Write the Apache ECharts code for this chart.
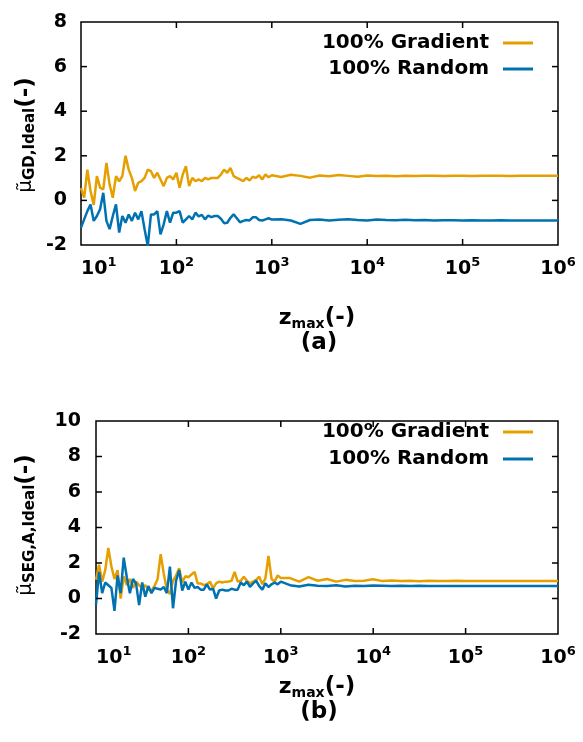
<!DOCTYPE html>
<html>
<head>
<meta charset="utf-8">
<script src="https://cdn.jsdelivr.net/npm/echarts@6/dist/echarts.min.js"></script>
<style>
  html, body { margin: 0; padding: 0; background: #fff; }
  #chart { width: 583px; height: 742px; }
</style>
</head>
<body>
<div id="chart"></div>
<script>
// Sampling grid in log10(z_max): fine steps up to 10^3, coarse steps up to 10^6
const FINE_STEP = 1 / 30;
const COARSE_STEP = 0.1;
const logZ = [];
for (let i = 0; i <= 60; i++) logZ.push(1 + i * FINE_STEP);
for (let i = 1; i <= 30; i++) logZ.push(3 + i * COARSE_STEP);

// (a) mu_GD,Ideal
const gdGradientFine = [0.55, 0.12, 1.38, 0.42, -0.2, 1.09, 0.57, 0.49, 1.68, 0.71, 0.12, 1.09, 0.86, 1.09, 2.0, 1.38,
  1.01, 0.42, 0.79, 0.86, 1.01, 1.38, 1.31, 1.01, 1.24, 0.94, 0.64, 1.01, 1.09, 0.94, 1.24, 0.57,
  1.16, 1.53, 0.64, 1.01, 0.86, 0.94, 0.86, 1.01, 0.94, 1.01, 1.01, 1.01, 1.16, 1.38, 1.24, 1.46,
  1.09, 1.01, 0.94, 0.86, 1.01, 0.89, 1.06, 1.01, 1.13, 0.94, 1.16, 1.04, 1.13];
const gdGradientCoarse = [1.05, 1.15, 1.10, 1.02, 1.12, 1.08, 1.14, 1.10, 1.06, 1.12, 1.09, 1.11, 1.08, 1.10, 1.09,
  1.11, 1.10, 1.09, 1.10, 1.10, 1.09, 1.10, 1.10, 1.10, 1.09, 1.10, 1.10, 1.10, 1.10, 1.10];
const gdRandomFine = [-1.22, -0.85, -0.48, -0.18, -0.92, -0.70, -0.40, 0.34, -0.92, -1.29, -0.70, -0.18, -1.44, -0.70,
  -1.0, -0.63, -0.92, -0.55, -0.85, -0.48, -1.29, -2.04, -0.63, -0.63, -0.48, -1.52, -1.07, -0.48, -1.0, -0.55,
  -0.55, -0.48, -1.0, -0.85, -0.70, -0.85, -0.55, -0.72, -0.65, -0.85, -0.68, -0.75, -0.70, -0.70, -0.82, -1.02,
  -1.0, -0.78, -0.62, -0.80, -0.98, -0.92, -0.88, -0.90, -0.76, -0.75, -0.88, -0.90, -0.85, -0.80, -0.86];
const gdRandomCoarse = [-0.85, -0.90, -1.05, -0.88, -0.86, -0.90, -0.87, -0.84, -0.88, -0.90, -0.86, -0.88, -0.89,
  -0.87, -0.89, -0.88, -0.90, -0.89, -0.89, -0.90, -0.89, -0.90, -0.90, -0.89, -0.90, -0.90, -0.90, -0.90, -0.90, -0.90];

// (b) mu_SEG,A,Ideal
const segGradientFine = [1.05, 1.9, 0.95, 1.6, 2.85, 1.8, 1.1, 1.6, 0.0, 1.25, 0.75, 1.1, 0.6, 0.95, 0.75, 0.6, 0.75,
  0.5, 0.45, 0.7, 1.1, 2.5, 1.4, 0.5, 0.25, 1.0, 1.3, 1.7, 0.9, 1.25, 1.2, 1.35, 1.5, 0.85, 0.85, 0.75, 0.8, 0.95,
  0.57, 0.85, 0.95, 0.9, 0.95, 0.95, 1.0, 1.5, 0.95, 1.0, 1.23, 1.0, 0.85, 0.95, 1.05, 1.23, 0.8, 1.14, 2.4, 1.1,
  0.95, 1.3, 1.15];
const segGradientCoarse = [1.15, 0.95, 1.2, 1.0, 1.1, 0.95, 1.05, 0.98, 1.0, 1.08, 0.98, 1.02, 0.99, 1.0, 0.97, 1.0,
  0.98, 0.99, 1.0, 0.98, 0.99, 0.98, 0.99, 0.98, 0.98, 0.99, 0.98, 0.98, 0.98, 0.98];
const segRandomFine = [-0.35, 1.5, 0.3, 0.9, 0.75, 0.6, -0.7, 1.3, 0.3, 2.3, 1.2, 0.3, 1.1, 0.85, -0.37, 0.9, 0.1, 0.7,
  0.3, 0.6, 0.55, 0.5, 0.65, 0.3, 1.8, -0.55, 1.0, 1.6, 0.45, 0.95, 0.5, 0.9, 0.6, 0.65, 0.5, 0.5, 0.8, 0.5, 0.55,
  0.0, 0.45, 0.5, 0.45, 0.45, 0.55, 0.5, 0.5, 0.9, 0.75, 0.95, 0.65, 0.85, 1.0, 0.7, 0.5, 0.85, 0.65, 0.8, 0.9, 0.8, 0.95];
const segRandomCoarse = [0.75, 0.68, 0.78, 0.72, 0.7, 0.75, 0.68, 0.72, 0.7, 0.73, 0.72, 0.7, 0.72, 0.71, 0.72, 0.7,
  0.71, 0.7, 0.71, 0.7, 0.7, 0.71, 0.7, 0.7, 0.7, 0.7, 0.7, 0.7, 0.7, 0.7];

const seriesNames = ['100% Gradient', '100% Random'];
const yTicksA = { min: -2, max: 8, interval: 2 };
const yTicksB = { min: -2, max: 10, interval: 2 };
// x axis runs over the decade exponent, labelled as powers of ten
const xDecades = { min: 1, max: 6, interval: 1 };

const FONT = 'DejaVu Sans';
const ORANGE = '#E69F00';
const BLUE = '#0072B2';
const TICK_LEN = 6;

const pairs = (ys) => ys.map((y, i) => [logZ[i], y]);

function xAxisFor(gridIndex) {
  return {
    type: 'value', min: xDecades.min, max: xDecades.max, interval: xDecades.interval, gridIndex,
    position: 'bottom', splitLine: { show: false }, minorTick: { show: false },
    axisLine: { show: false, onZero: false }, axisTick: { show: false },
    axisLabel: {
      margin: 11, color: '#000', fontFamily: FONT, fontWeight: 'bold', fontSize: 19,
      showMinLabel: true, showMaxLabel: true, alignMinLabel: 'left',
      formatter: v => '{b|10}{sup|' + v + '}',
      rich: {
        b: { fontFamily: FONT, fontWeight: 'bold', fontSize: 19, lineHeight: 26, verticalAlign: 'middle', color: '#000' },
        sup: { fontFamily: FONT, fontWeight: 'bold', fontSize: 13, lineHeight: 15, verticalAlign: 'top', color: '#000' }
      }
    }
  };
}

function yAxisFor(gridIndex, ticks, margin) {
  return {
    type: 'value', min: ticks.min, max: ticks.max, interval: ticks.interval, gridIndex,
    position: 'left', splitLine: { show: false },
    axisLine: { show: false, onZero: false }, axisTick: { show: false },
    axisLabel: { margin, color: '#000', fontFamily: FONT, fontWeight: 'bold', fontSize: 19 }
  };
}

function lineSeries(name, color, axisIdx, ys) {
  return {
    name, type: 'line', xAxisIndex: axisIdx, yAxisIndex: axisIdx, data: pairs(ys),
    showSymbol: false, symbol: 'none', clip: true, animation: false,
    lineStyle: { color, width: 2.5 }, itemStyle: { color }
  };
}

// Inward tick marks on all four sides of a frame, positioned through the axes' scales
function tickSeries(axisIdx, yTicks) {
  const data = [];
  for (let v = xDecades.min + xDecades.interval; v < xDecades.max; v += xDecades.interval) data.push([v, yTicks.min, 0]);
  for (let v = yTicks.min + yTicks.interval; v < yTicks.max; v += yTicks.interval) data.push([xDecades.min, v, 1]);
  const tickStroke = { stroke: '#000', lineWidth: 1.5 };
  return {
    type: 'custom', xAxisIndex: axisIdx, yAxisIndex: axisIdx, data, clip: false, silent: true,
    animation: false, z: 10, encode: { x: 0, y: 1 },
    renderItem: (params, api) => {
      const vx = api.value(0), vy = api.value(1), vertical = api.value(2) === 0;
      let a, b;
      if (vertical) {
        a = api.coord([vx, yTicks.min]); b = api.coord([vx, yTicks.max]);
        return { type: 'group', children: [
          { type: 'line', shape: { x1: a[0], y1: a[1], x2: a[0], y2: a[1] - TICK_LEN }, style: tickStroke },
          { type: 'line', shape: { x1: b[0], y1: b[1], x2: b[0], y2: b[1] + TICK_LEN }, style: tickStroke }
        ] };
      }
      a = api.coord([xDecades.min, vy]); b = api.coord([xDecades.max, vy]);
      return { type: 'group', children: [
        { type: 'line', shape: { x1: a[0], y1: a[1], x2: a[0] + TICK_LEN, y2: a[1] }, style: tickStroke },
        { type: 'line', shape: { x1: b[0], y1: b[1], x2: b[0] - TICK_LEN, y2: b[1] }, style: tickStroke }
      ] };
    }
  };
}

function legendAt(top, gap) {
  return {
    data: seriesNames, orient: 'vertical', align: 'right', right: 45, top, itemGap: gap,
    itemWidth: 30, itemHeight: 3, icon: 'rect', selectedMode: false,
    textStyle: { fontFamily: FONT, fontWeight: 'bold', fontSize: 20, color: '#000', lineHeight: 20, padding: [0, 9, 0, 0] }
  };
}

const yTitleRich = {
  mu: { fontFamily: FONT, fontSize: 20, fontWeight: 'normal', lineHeight: 24, verticalAlign: 'middle', fill: '#000' },
  s: { fontFamily: FONT, fontSize: 15, fontWeight: 'bold', lineHeight: 18, verticalAlign: 'bottom', fill: '#000' },
  p: { fontFamily: FONT, fontSize: 23, fontWeight: 'bold', lineHeight: 24, verticalAlign: 'middle', fill: '#000' }
};
const xTitleRich = {
  z: { fontFamily: FONT, fontSize: 22, fontWeight: 'bold', lineHeight: 26, verticalAlign: 'middle', fill: '#000' },
  s: { fontFamily: FONT, fontSize: 14, fontWeight: 'bold', lineHeight: 16, verticalAlign: 'bottom', fill: '#000' },
  p: { fontFamily: FONT, fontSize: 23, fontWeight: 'bold', lineHeight: 26, verticalAlign: 'middle', fill: '#000' }
};

function richText(x, y, text, rich, rotation) {
  return {
    type: 'text', x, y, rotation: rotation || 0, silent: true,
    style: { text, rich, align: 'center', verticalAlign: 'middle', fill: '#000' }
  };
}
function plainText(x, y, text) {
  return {
    type: 'text', x, y, silent: true,
    style: { text, align: 'center', verticalAlign: 'middle', fill: '#000',
      font: 'bold 23px "' + FONT + '"' }
  };
}

const chart = echarts.init(document.getElementById('chart'), null, { renderer: 'canvas' });
chart.setOption({
  backgroundColor: '#fff',
  animation: false,
  grid: [
    { left: 81, right: 25, top: 22, height: 223, show: true, borderColor: '#000', borderWidth: 1.5, backgroundColor: 'transparent', outerBoundsMode: 'none', containLabel: false },
    { left: 96, right: 25, top: 421, height: 213, show: true, borderColor: '#000', borderWidth: 1.5, backgroundColor: 'transparent', outerBoundsMode: 'none', containLabel: false }
  ],
  xAxis: [xAxisFor(0), xAxisFor(1)],
  yAxis: [yAxisFor(0, yTicksA, 14), yAxisFor(1, yTicksB, 15)],
  legend: [legendAt(28, 6), legendAt(417, 7)],
  series: [
    lineSeries(seriesNames[0], ORANGE, 0, gdGradientFine.concat(gdGradientCoarse)),
    lineSeries(seriesNames[1], BLUE, 0, gdRandomFine.concat(gdRandomCoarse)),
    lineSeries(seriesNames[0], ORANGE, 1, segGradientFine.concat(segGradientCoarse)),
    lineSeries(seriesNames[1], BLUE, 1, segRandomFine.concat(segRandomCoarse)),
    tickSeries(0, yTicksA),
    tickSeries(1, yTicksB)
  ],
  graphic: [
    richText(26, 135, '{mu|\u03BC\u0303}{s|GD,Ideal}{p|(-)}', yTitleRich, Math.PI / 2),
    richText(26, 525, '{mu|\u03BC\u0303}{s|SEG,A,Ideal}{p|(-)}', yTitleRich, Math.PI / 2),
    richText(317, 318, '{z|z}{s|max}{p|(-)}', xTitleRich),
    plainText(319, 343, '(a)'),
    richText(317, 687, '{z|z}{s|max}{p|(-)}', xTitleRich),
    plainText(319, 712, '(b)')
  ]
});
</script>
</body>
</html>
